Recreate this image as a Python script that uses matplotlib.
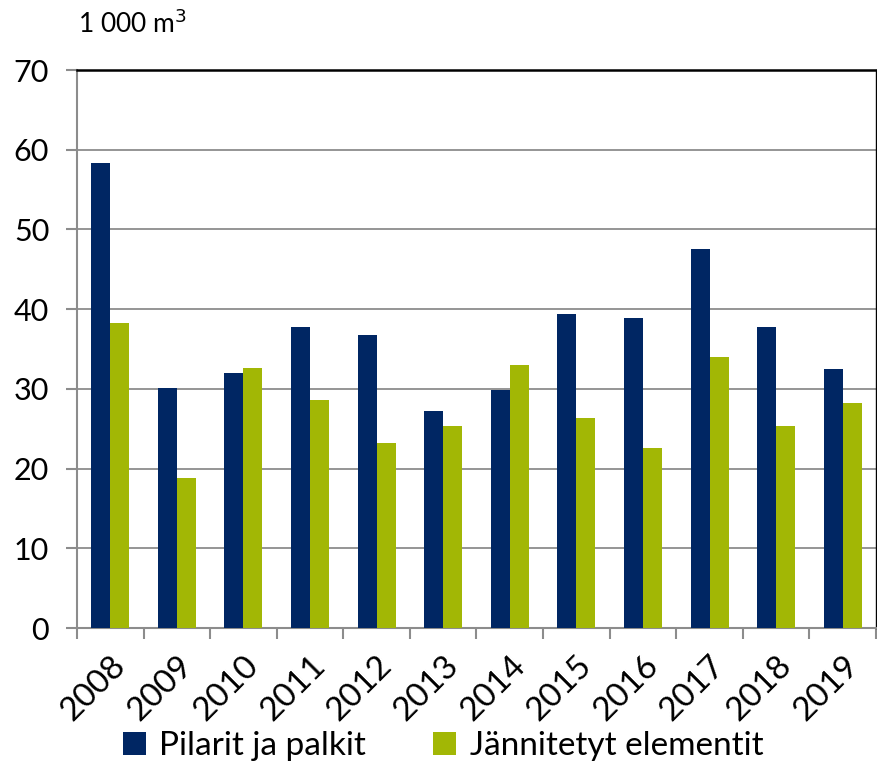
import numpy as np
import matplotlib.pyplot as plt

plt.rcParams['font.family'] = ['Lato', 'DejaVu Sans']

years = ['2008', '2009', '2010', '2011', '2012', '2013', '2014', '2015', '2016', '2017', '2018', '2019']
pilarit = [58.3, 30.1, 32.0, 37.8, 36.8, 27.2, 29.9, 39.4, 38.9, 47.6, 37.8, 32.5]
jannitetyt = [38.3, 18.8, 32.6, 28.6, 23.2, 25.3, 33.0, 26.3, 22.6, 34.0, 25.3, 28.2]
labels = ['Pilarit ja palkit', 'Jännitetyt elementit']

blue = '#002663'
green = '#a2b705'
grey = '#8c8c8c'

fig = plt.figure(figsize=(8.77, 7.82), dpi=100)
ax = fig.add_axes([77/877, 1-628/782, 799/877, 558/782])

x = np.arange(len(years))
w = 0.285
ax.bar(x - w/2, pilarit, w, color=blue, label=labels[0], zorder=3)
ax.bar(x + w/2, jannitetyt, w, color=green, label=labels[1], zorder=3)

ax.set_xlim(-0.5, len(years) - 0.5)
ax.set_ylim(0, 70)
ax.set_yticks(range(0, 71, 10))
ax.yaxis.grid(True, color=grey, linewidth=1.3, zorder=0)

ax.set_xticks(x)
ax.set_xticklabels(years, rotation=45, ha='right', rotation_mode='anchor', fontsize=24)
ax.tick_params(axis='x', length=0, pad=16)
ax.set_xticks(np.arange(-0.5, len(years)), minor=True)
ax.tick_params(axis='x', which='minor', length=8, width=1.5, color=grey)
ax.tick_params(axis='y', length=8, width=1.5, color=grey, labelsize=22, pad=12)

for s in ['left', 'bottom']:
    ax.spines[s].set_color(grey)
    ax.spines[s].set_linewidth(1.5)
ax.spines['top'].set_color('black')
ax.spines['top'].set_linewidth(1.8)
ax.spines['right'].set_color('black')
ax.spines['right'].set_linewidth(1.0)

fig.text(78/877, 1-24/782, '1 000 m$^3$', fontsize=19, va='center', ha='left')

fig.legend(loc='lower center', bbox_to_anchor=(0.505, -0.012), ncol=2, frameon=False,
           fontsize=24, handlelength=0.7, handleheight=0.7, columnspacing=2.0, handletextpad=0.4)

fig.savefig('out.png', dpi=100)
